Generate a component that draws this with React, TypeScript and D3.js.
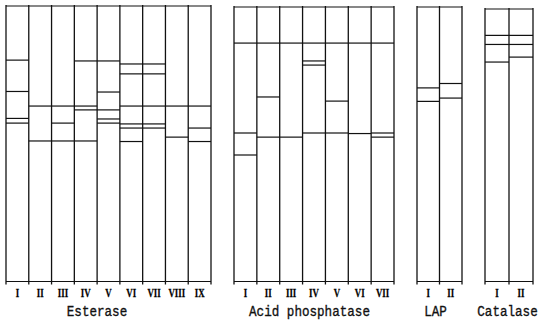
import React from 'react';
import * as d3 from 'd3';

// band positions: % of gel length from the origin (top)
const esteraseLanes = ['I', 'II', 'III', 'IV', 'V', 'VI', 'VII', 'VIII', 'IX'];
const esteraseBands = [
  [19.5, 30.9, 40.7, 42.4],
  [36.2, 48.9],
  [36.2, 42.4, 48.9],
  [19.8, 36.2, 37.6, 48.9],
  [19.8, 31.1, 37.6, 40.9, 42.4],
  [20.9, 24.5, 36.2, 42.7, 44.2, 49.1],
  [20.9, 24.5, 36.2, 42.7, 44.2],
  [36.2, 47.5],
  [36.2, 44.2, 49.1],
];

const acidLanes = ['I', 'II', 'III', 'IV', 'V', 'VI', 'VII'];
const acidBands = [
  [13.3, 46.0, 54.0],
  [13.3, 32.9, 47.5],
  [13.3, 47.5],
  [13.3, 19.8, 21.3, 46.0],
  [13.3, 34.4, 46.0],
  [13.3, 46.2],
  [13.3, 46.0, 47.5],
];

const lapLanes = ['I', 'II'];
const lapBands = [
  [29.6, 34.5],
  [28.0, 33.3],
];

const catalaseLanes = ['I', 'II'];
const catalaseBands = [
  [10.5, 13.8, 20.2],
  [10.5, 13.8, 18.4],
];

const panels = [
  { name: 'Esterase', lanes: esteraseLanes, bands: esteraseBands },
  { name: 'Acid phosphatase', lanes: acidLanes, bands: acidBands },
  { name: 'LAP', lanes: lapLanes, bands: lapBands },
  { name: 'Catalase', lanes: catalaseLanes, bands: catalaseBands },
];

// layout
const W = 538, H = 321;
const TOP = 6.5, BOTTOM = 281.5;
const panelX = [[6, 211], [234, 394], [417, 462], [485, 533]];
const panelTop = [6, 7, 7, 9];
const titleDx = [-11.5, -4.5, -4, -1.5];

const y = d3.scaleLinear().domain([0, 100]).range([TOP, BOTTOM]);

function Panel({ p, i }) {
  const [x0, x1] = panelX[i];
  const x = d3.scaleBand().domain(p.lanes).range([x0, x1]).paddingInner(0).paddingOuter(0);
  const bw = x.bandwidth();
  const top = panelTop[i];
  const edges = p.lanes.map(l => x(l)).concat([x1]);
  const cx = (x0 + x1) / 2 + titleDx[i];
  return (
    <g>
      <line x1={x0} x2={x1} y1={top} y2={top} stroke="#111" strokeWidth={1.2} />
      <line x1={x0} x2={x1} y1={BOTTOM} y2={BOTTOM} stroke="#111" strokeWidth={1.2} />
      {edges.map((ex, k) => (
        <line key={k} x1={ex} x2={ex} y1={top - 1} y2={BOTTOM + 3} stroke="#111" strokeWidth={1.3} />
      ))}
      {p.bands.map((lane, li) =>
        lane.map((v, bi) => (
          <line key={li + '-' + bi} x1={x(p.lanes[li])} x2={x(p.lanes[li]) + bw}
            y1={y(v)} y2={y(v)} stroke="#111" strokeWidth={1.2} />
        ))
      )}
      {p.lanes.map(l => (
        <text key={l} transform={`translate(${x(l) + bw / 2},296.5) scale(0.68,1)`}
          textAnchor="middle" fontFamily="'Liberation Serif', serif" fontWeight="bold"
          fontSize={13} fill="#000" stroke="#000" strokeWidth={0.3}>{l}</text>
      ))}
      <text transform={`translate(${cx},315.5) scale(0.84,1)`} textAnchor="middle"
        fontFamily="'Liberation Mono', monospace" fontSize={15} fill="#111"
        stroke="#111" strokeWidth={0.35}>{p.name}</text>
    </g>
  );
}

export default function App() {
  return (
    <svg width={W} height={H} style={{ position: 'absolute', left: 0, top: 0, background: '#fff' }}>
      {panels.map((p, i) => <Panel key={p.name} p={p} i={i} />)}
    </svg>
  );
}
